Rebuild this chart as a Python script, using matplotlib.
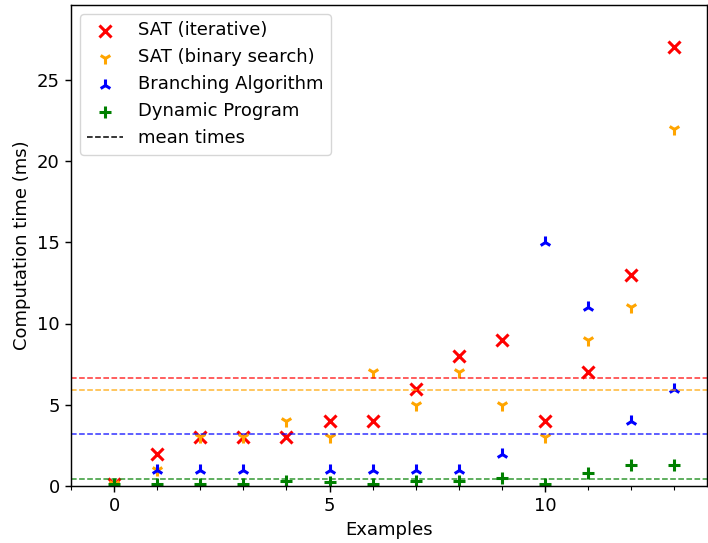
import numpy as np
import matplotlib
matplotlib.use('Agg')
import matplotlib.pyplot as plt
from matplotlib.ticker import MultipleLocator

examples = np.arange(14)
sat_iter = [0.1, 2, 3, 3, 3, 4, 4, 6, 8, 9, 4, 7, 13, 27]
sat_binary = [0.1, 1, 3, 3, 4, 3, 7, 5, 7, 5, 3, 9, 11, 22]
branching = [0.05, 1, 1, 1, 0.0, 1, 1, 1, 1, 2, 15, 11, 4, 6]
dyn_prog = [0.1, 0.1, 0.1, 0.1, 0.3, 0.25, 0.1, 0.3, 0.3, 0.5, 0.1, 0.8, 1.3, 1.3]

series = [
    (sat_iter, 'SAT (iterative)', 'red', 'x'),
    (sat_binary, 'SAT (binary search)', 'orange', '1'),
    (branching, 'Branching Algorithm', 'blue', '2'),
    (dyn_prog, 'Dynamic Program', 'green', '+'),
]

size = 13
sc = 1.3  # everything looks ~1.3x the default scale
plt.rcParams.update({
    'font.size': size,
    'axes.linewidth': 0.8*sc,
    'xtick.major.size': 3.5*sc, 'ytick.major.size': 3.5*sc,
    'xtick.minor.size': 2*sc, 'ytick.minor.size': 2*sc,
    'xtick.major.width': 0.8*sc, 'ytick.major.width': 0.8*sc,
    'xtick.minor.width': 0.6*sc,
    'legend.frameon': True,
})

fig = plt.figure(figsize=(7.08, 5.43), dpi=100)
ax = fig.add_axes([71/708, 57/543, 636/708, 481/543])

for vals, name, col, mk in series:
    ax.scatter(examples, vals, color=col, marker=mk, s=75, linewidths=2.2, label=name)

for vals, name, col, mk in series:
    ax.axhline(np.mean(vals), color=col, linestyle='--', linewidth=1.1, alpha=0.8)

# legend entry for the mean lines
ax.plot([], [], color='black', linestyle='--', linewidth=1.1, label='mean times')

ax.set_xlim(-1, 13.76)
ax.set_ylim(0, 29.6)
ax.xaxis.set_minor_locator(MultipleLocator(1))
ax.set_xticks([0, 5, 10])
ax.set_yticks([0, 5, 10, 15, 20, 25])
ax.set_xlabel('Examples', fontsize=size)
ax.set_ylabel('Computation time (ms)', fontsize=size)
ax.legend(loc='upper left', fontsize=size)

fig.savefig('out.png', dpi=100)
